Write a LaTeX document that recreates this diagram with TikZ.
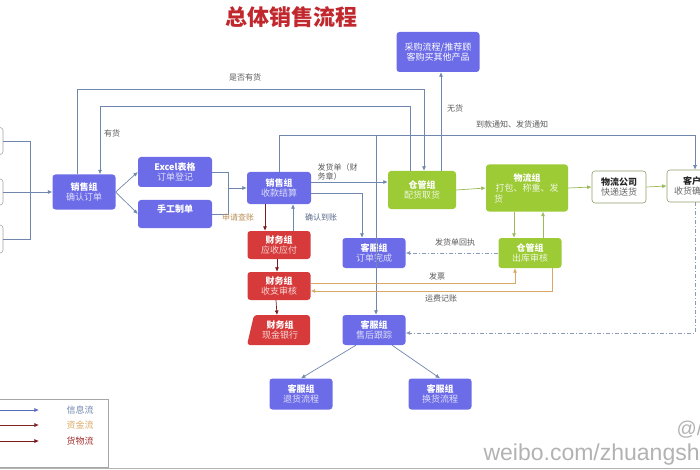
\documentclass[tikz,border=0pt]{standalone}
\usepackage{fontspec}
\setmainfont{Noto Sans CJK SC}
\setsansfont{Liberation Sans}
\usetikzlibrary{arrows.meta, positioning, calc}

\definecolor{zise}{HTML}{6C6CE8}
\definecolor{hong}{HTML}{D63A3A}
\definecolor{lv}{HTML}{9CCB35}
\definecolor{xian}{HTML}{6F86AD}
\definecolor{shenhong}{HTML}{7A1A1A}
\definecolor{jin}{HTML}{D9A864}
\definecolor{huo}{HTML}{9BBB59}
\definecolor{xu}{HTML}{8A9AB8}
\definecolor{biaoti}{HTML}{C0282D}
\colorlet{fu}{white}

\newcommand{\zu}[2]{{\bfseries #1}\\{\color{fu}#2}}

\tikzset{
  kuang/.style={rounded corners=3pt, align=center, inner sep=1pt, font=\fontsize{9}{10.5}\selectfont, minimum width=63pt, minimum height=30pt},
  zibox/.style={kuang, fill=zise, text=white, execute at begin node=\colorlet{fu}{white!78!zise}},
  hongbox/.style={kuang, fill=hong, text=white, execute at begin node=\colorlet{fu}{white!80!hong}},
  lvbox/.style={kuang, fill=lv, text=white, execute at begin node=\colorlet{fu}{white!85!lv}},
  baibox/.style={kuang, draw=huo!55!gray, line width=0.6pt, fill=white, text=black!85, execute at begin node=\colorlet{fu}{black!60}},
  xinxi/.style={draw=xian, line width=0.7pt, -{Latex[length=4.5pt,width=4pt]}},
  zijin/.style={draw=shenhong, line width=0.7pt, -{Latex[length=4.5pt,width=4pt]}},
  jinxian/.style={draw=jin, line width=0.7pt, -{Latex[length=4.5pt,width=4pt]}},
  huowu/.style={draw=huo, line width=0.7pt, -{Latex[length=4.5pt,width=4pt]}},
  xuxian/.style={draw=xu, line width=0.7pt, dash pattern=on 4pt off 2pt on 1pt off 2pt, -{Latex[length=4.5pt,width=4pt]}},
  biao/.style={font=\fontsize{8}{9.5}\selectfont, text=black!65, align=left},
}

\begin{document}
\begin{tikzpicture}[x=1pt, y=-1pt]
\useasboundingbox (0,0) rectangle (700,470);

% Titel
\node[font=\fontsize{22}{24}\selectfont\bfseries, text=biaoti] (bt) at (291,17) {总体销售流程};

% linke Kästen (abgeschnitten)
\node[baibox, draw=gray!70, minimum width=26pt, minimum height=27pt] (l1) at (-10,141) {};
\node[baibox, draw=gray!70, minimum width=26pt, minimum height=26pt] (l2) at (-10,192) {};
\node[baibox, draw=gray!70, minimum width=26pt, minimum height=28pt] (l3) at (-10,239) {};

% Vertrieb
\node[zibox, minimum height=35pt] (qr) at (84,192) {\zu{销售组}{确认订单}};
\node[zibox, minimum width=74pt] (ex) at (175,172) {\zu{Excel表格}{订单登记}};
\node[zibox, minimum width=74pt, minimum height=28pt] (sg) at (175,214) {\zu{手工制单}{}};
\node[zibox, minimum width=64pt, minimum height=32pt] (sk) at (279,188) {\zu{销售组}{收款结算}};
\node[zibox, minimum width=83pt, minimum height=40pt] (cg) at (438,52) {采购流程/推荐顾\\客购买其他产品};

% Finanzen
\node[hongbox, minimum height=28pt] (ys) at (279,245) {\zu{财务组}{应收应付}};
\node[hongbox, minimum height=28pt] (sz) at (279,286) {\zu{财务组}{收支审核}};
\fill[hong, rounded corners=3pt] (254,315) -- (310,315) -- (310,345) -- (247,345) -- cycle;
\node[kuang, text=white, execute at begin node=\colorlet{fu}{white!80!hong}] (xj) at (280,330) {\zu{财务组}{现金银行}};

% Kundendienst
\node[zibox] (wc) at (374,253) {\zu{客服组}{订单完成}};
\node[zibox] (sh) at (374,330) {\zu{客服组}{售后跟踪}};
\node[zibox, minimum height=31pt] (th) at (301,394) {\zu{客服组}{退货流程}};
\node[zibox, minimum height=31pt] (hh) at (440,394) {\zu{客服组}{换货流程}};

% Lager und Logistik
\node[lvbox, minimum width=68pt, minimum height=38pt] (ph) at (422,190) {\zu{仓管组}{配货取货}};
\node[lvbox, minimum width=82pt, minimum height=47pt] (wl) at (527,188) {\zu{物流组}{打包、称重、发}\\\makebox[66pt][l]{\color{fu}货}};
\node[lvbox] (ck) at (530,253) {\zu{仓管组}{出库审核}};
\node[baibox, minimum width=54pt, minimum height=32pt] (wg) at (619,187) {\zu{物流公司}{快递送货}};
\node[baibox, minimum width=50pt, minimum height=32pt] (kh) at (692,186) {\zu{客户}{收货确认}};

% Zuleitungen links
\coordinate (hui) at (30,192);
\draw[xian, line width=0.7pt] (l1.east) -| (hui);
\draw[xian, line width=0.7pt] (l3.east) -| (hui);
\draw[xinxi] (l2.east) -- (qr.west);

% Informationsfluss
\draw[xinxi] (qr.east) -- (ex.west);
\draw[xinxi] (qr.east) -- (sg.west);
\coordinate (he) at (228,188);
\draw[xian, line width=0.7pt] (ex.east) -| (he);
\draw[xian, line width=0.7pt] (sg.east) -| (he);
\draw[xinxi] (he) -- (sk.west);
\draw[xinxi] ([xshift=-7pt]qr.north) |- (424,89) -- ([xshift=2pt]ph.north);
\node[biao] (l-sf) at (245,77) {是否有货};
\draw[xinxi] ([xshift=-12pt]ph.north) |- (100,106) -- ([xshift=16pt]qr.north);
\node[biao] (l-yh) at (112,133) {有货};
\draw[xinxi] ([xshift=19pt]ph.north) -- ([xshift=19pt]ph.north |- cg.south);
\node[biao] (l-wh) at (455,108) {无货};
\draw[xinxi] (sk.north) |- (695,135) -- ([xshift=3pt]kh.north);
\node[biao] (l-dk) at (512,124) {到款通知、发货通知};
\coordinate (fen) at (376,135);
\draw[xinxi] (fen) -- ([xshift=2pt]sh.north);
\draw[xinxi] ([yshift=6pt]sk.east) -- ([yshift=6pt]sk.east -| ph.west);
\node[biao, anchor=west] (l-fh) at (314,172) {发货单（财\\务章）};
\draw[xinxi] ([yshift=-5pt]sk.east) -| ([xshift=-12pt]wc.north);
\draw[xinxi] ([xshift=14pt]ys.north) -- ([xshift=14pt]sk.south);
\node[biao, text=xian!80!black] (l-qr) at (321,217) {确认到账};
\draw[xinxi] ([xshift=-18pt]sh.south) -- (th.north);
\draw[xinxi] ([xshift=18pt]sh.south) -- (hh.north);

% Geldfluss
\draw[zijin] ([xshift=-14pt]sk.south) -- ([xshift=-14pt]ys.north);
\node[biao, text=jin!85!black] (l-sq) at (238,217) {申请查账};
\draw[zijin] ([xshift=-2pt]ys.south) -- ([xshift=-2pt]sz.north);
\draw[zijin] ([xshift=-3pt]sz.south) -- (277,315);
\draw[jinxian] ([yshift=3pt]sz.east) -| ([xshift=-15pt]ck.south);
\node[biao] (l-fp) at (437,276) {发票};
\draw[jinxian] ([xshift=22pt]ck.south) |- ([yshift=-5pt]sz.east);
\node[biao] (l-yf) at (441,298) {运费记账};

% Warenfluss
\draw[huowu] (ph.east) -- (wl.west);
\draw[huowu] (wl.east) -- (wg.west);
\draw[huowu] (wg.east) -- (kh.west);
\draw[huowu] ([xshift=-13pt]wl.south) -- ([xshift=-13pt]wl.south |- ck.north);
\draw[huowu] ([xshift=13pt]ck.north) -- ([xshift=13pt]ck.north |- wl.south);

% Rückmeldungen
\draw[xuxian] (ck.west) -- (wc.east);
\node[biao] (l-hz) at (455,242) {发货单回执};
\draw[xuxian] ([xshift=3pt]kh.south) |- ([yshift=-3pt]sh.east);

% Legende
\draw[gray!70, line width=0.7pt] (-5,399) rectangle (108,467);
\node[font=\fontsize{9}{10}\selectfont, text=xian] (lg1) at (80,410) {信息流};
\node[font=\fontsize{9}{10}\selectfont, text=jin] (lg2) at (80,425) {资金流};
\node[font=\fontsize{9}{10}\selectfont, text=hong!75!black] (lg3) at (80,441) {货物流};
\coordinate (la1) at (-5,410);
\coordinate (la2) at (-5,425);
\coordinate (la3) at (-5,441);
\draw[xinxi, draw=xian!80!blue] (la1) -- ([xshift=-24pt]lg1.west);
\draw[zijin, draw=hong!60!black] (la2) -- ([xshift=-24pt]lg2.west);
\draw[zijin] (la3) -- ([xshift=-24pt]lg3.west);

% Wasserzeichen
\node[font=\sffamily\fontsize{23}{25}\selectfont, text=black!30, anchor=west] (wb) at (480,455) {weibo.com/zhuangsh};
\node[font=\sffamily\fontsize{20}{22}\selectfont, text=black!30, anchor=west] (wat) at (673,430) {@/};
\draw[gray!60, line width=0.8pt] (0,468) -- (700,468);
\end{tikzpicture}
\end{document}
